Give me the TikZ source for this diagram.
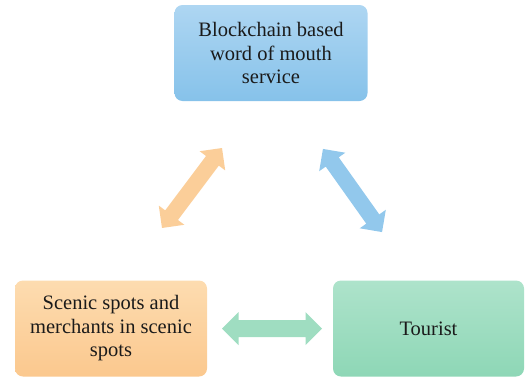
\documentclass[tikz,border=0pt]{standalone}
\usepackage{fontspec}
\setmainfont{Liberation Serif}
\definecolor{bluetop}{HTML}{AED6F2}
\definecolor{bluebot}{HTML}{86C2EA}
\definecolor{orgtop}{HTML}{FDDCB0}
\definecolor{orgbot}{HTML}{FBC88E}
\definecolor{grntop}{HTML}{AEE3CB}
\definecolor{grnbot}{HTML}{8ED7B6}
\definecolor{txt}{HTML}{1A1A1A}
% double arrow: #1 centre, #2 angle, #3 half length, #4 half shaft, #5 half head, #6 head length, #7 style
\newcommand\dblarr[7]{%
  \fill[#7, shift={(#1)}, rotate=#2]
    (-#3,0) -- (-#3+#6,#5) -- (-#3+#6,#4) -- (#3-#6,#4) -- (#3-#6,#5) -- (#3,0)
    -- (#3-#6,-#5) -- (#3-#6,-#4) -- (-#3+#6,-#4) -- (-#3+#6,-#5) -- cycle;}
\begin{document}
\begin{tikzpicture}[x=1pt,y=1pt,
  box/.style={rounded corners=8pt, minimum width=#1, minimum height=96pt,
    align=center, text=txt, font=\fontsize{20.5}{23.5}\selectfont, inner sep=2pt}]
\useasboundingbox (0,0) rectangle (526,-380);
\node[box=193pt, top color=bluetop, bottom color=bluebot] (bc) at (271,-53) {Blockchain based\\word of mouth\\service};
\node[box=192pt, top color=orgtop, bottom color=orgbot] (sc) at (111,-328.5) {Scenic spots and\\merchants in scenic\\spots};
\node[box=191pt, top color=grntop, bottom color=grnbot] (tr) at (428.5,-328.5) {Tourist};
\coordinate (a1) at (272,-328.5);
\coordinate (a2) at (192,-188);
\coordinate (a3) at (352.5,-190.5);
\dblarr{a1}{0}{50}{8.5}{16.5}{16.5}{grnbot!85!white}
\dblarr{a2}{53.1}{50}{8}{16}{16}{orgbot!90!white}
\dblarr{a3}{-54.6}{51}{8}{16}{16}{bluebot!90!white}
\end{tikzpicture}
\end{document}
